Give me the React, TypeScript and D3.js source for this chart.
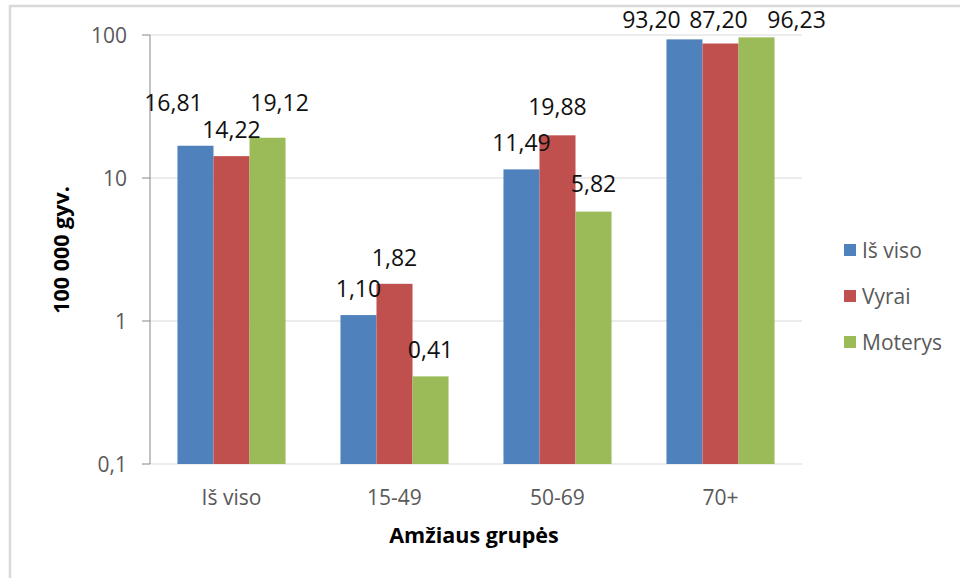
import React from "react";
import * as d3 from "d3";

const categories = ["Iš viso", "15-49", "50-69", "70+"];
const seriesNames = ["Iš viso", "Vyrai", "Moterys"];
const isVisoValues = [16.81, 1.1, 11.49, 93.2];
const vyraiValues = [14.22, 1.82, 19.88, 87.2];
const moterysValues = [19.12, 0.41, 5.82, 96.23];
const seriesValues = [isVisoValues, vyraiValues, moterysValues];
const yTicks = [0.1, 1, 10, 100];
const yTitle = "100 000 gyv.";
const xTitle = "Amžiaus grupės";

const colors = ["#4F81BD", "#C0504D", "#9BBB59"];

// label nudges (layout only): [category][series] -> [dx, dy]
const labelNudge: [number, number][][] = [
  [[-22, -17], [0, 0], [12, -9]],
  [[0, 0], [0, 0], [0, 0]],
  [[0, 0], [0, -2], [0, -2]],
  [[-33, 0], [-2, 0], [40, 0]],
];

const W = 960;
const H = 578;
const left = 150;
const right = 802;
const top = 35;
const bottom = 464;
const FONT = "'Open Sans', 'Liberation Sans', sans-serif";

const fmt = (v: number) => v.toFixed(2).replace(".", ",");
const fmtTick = (v: number) => String(v).replace(".", ",");

export default function App() {
  const y = d3.scaleLog().domain([0.1, 100]).range([bottom, top]);
  const x0 = d3
    .scaleBand<string>()
    .domain(categories)
    .range([left, right])
    .paddingInner(0.337)
    .paddingOuter(0.337 / 2);
  const x1 = d3
    .scaleBand<string>()
    .domain(seriesNames)
    .range([0, x0.bandwidth()]);

  return (
    <svg
      width={W}
      height={H}
      style={{ position: "absolute", left: 0, top: 0, background: "#fff" }}
    >
      <rect x={0} y={0} width={W} height={H} fill="#fff" />
      <rect
        x={10}
        y={6}
        width={W + 20}
        height={H + 20}
        fill="none"
        stroke="#d9d9d9"
        strokeWidth={2.5}
      />
      {/* gridlines */}
      {yTicks.map((t) => (
        <line
          key={"g" + t}
          x1={left}
          x2={right}
          y1={y(t)}
          y2={y(t)}
          stroke="#d9d9d9"
          strokeWidth={1}
        />
      ))}
      {/* bars */}
      {categories.map((c, ci) =>
        seriesNames.map((s, si) => {
          const v = seriesValues[si][ci];
          const bx = (x0(c) as number) + (x1(s) as number);
          return (
            <rect
              key={c + s}
              x={bx}
              y={y(v)}
              width={x1.bandwidth()}
              height={bottom - y(v)}
              fill={colors[si]}
            />
          );
        })
      )}
      {/* axis */}
      <line x1={left} x2={left} y1={top} y2={bottom} stroke="#868686" strokeWidth={1} />
      {yTicks.map((t) => (
        <g key={"t" + t}>
          <line x1={left - 8} x2={left} y1={y(t)} y2={y(t)} stroke="#868686" strokeWidth={1} />
          <text
            x={left - 23}
            y={y(t) + 7.5}
            textAnchor="end"
            fontFamily={FONT}
            fontSize={21}
            fill="#595959"
          >
            {fmtTick(t)}
          </text>
        </g>
      ))}
      {/* x labels */}
      {categories.map((c) => (
        <text
          key={"x" + c}
          x={(x0(c) as number) + x0.bandwidth() / 2}
          y={505}
          textAnchor="middle"
          fontFamily={FONT}
          fontSize={21}
          fill="#595959"
        >
          {c}
        </text>
      ))}
      {/* data labels */}
      {categories.map((c, ci) =>
        seriesNames.map((s, si) => {
          const v = seriesValues[si][ci];
          const cx = (x0(c) as number) + (x1(s) as number) + x1.bandwidth() / 2;
          const [dx, dy] = labelNudge[ci][si];
          const base = Math.max(28, y(v) - 18);
          return (
            <text
              key={"l" + c + s}
              x={cx + dx}
              y={base + dy}
              textAnchor="middle"
              fontFamily={FONT}
              fontSize={23}
              fill="#111"
            >
              {fmt(v)}
            </text>
          );
        })
      )}
      {/* axis titles */}
      <text
        x={474}
        y={543}
        textAnchor="middle"
        fontFamily={FONT}
        fontSize={21.5}
        fontWeight="bold"
        fill="#000"
      >
        {xTitle}
      </text>
      <text
        transform={`translate(69, 250) rotate(-90)`}
        textAnchor="middle"
        fontFamily={FONT}
        fontSize={21.5}
        fontWeight="bold"
        fill="#000"
      >
        {yTitle}
      </text>
      {/* legend */}
      {seriesNames.map((s, i) => (
        <g key={"lg" + s} transform={`translate(844, ${244 + i * 46})`}>
          <rect x={0} y={0} width={12} height={12} fill={colors[i]} />
          <text x={18} y={13.5} fontFamily={FONT} fontSize={21} fill="#595959">
            {s}
          </text>
        </g>
      ))}
    </svg>
  );
}
